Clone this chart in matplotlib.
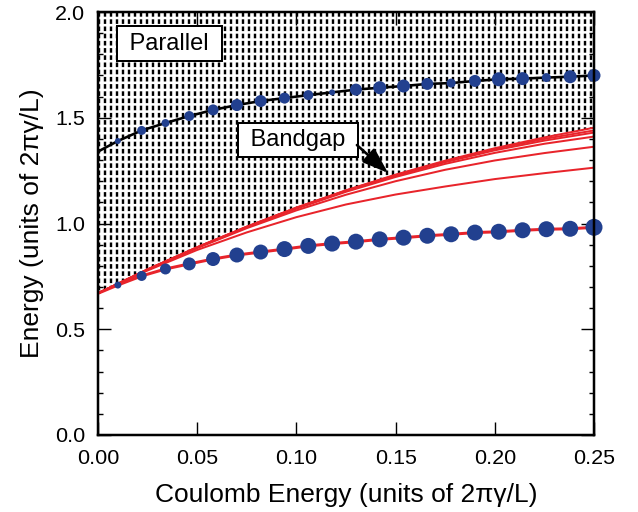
import matplotlib
matplotlib.use("Agg")
import matplotlib.pyplot as plt
import numpy as np
from matplotlib.ticker import MultipleLocator, FormatStrFormatter

# ---------------- data ----------------
dot_x = [0.010, 0.022, 0.034, 0.046, 0.058, 0.070, 0.082, 0.094, 0.106, 0.118,
         0.130, 0.142, 0.154, 0.166, 0.178, 0.190, 0.202, 0.214, 0.226, 0.238, 0.250]
parallel_y = [1.390, 1.440, 1.475, 1.508, 1.537, 1.560, 1.579, 1.593, 1.607, 1.620,
              1.633, 1.642, 1.650, 1.660, 1.664, 1.674, 1.682, 1.685, 1.690, 1.694, 1.700]
parallel_size_px = [6, 9, 8, 10, 11, 12, 12, 11, 10, 6, 12, 13, 13, 12, 9, 12, 14, 13, 9, 13, 13]
lower_y = [0.709, 0.752, 0.785, 0.809, 0.832, 0.851, 0.865, 0.879, 0.894, 0.905,
           0.914, 0.925, 0.933, 0.942, 0.949, 0.957, 0.961, 0.968, 0.973, 0.975, 0.982]
lower_size_px = [7, 10, 11, 13, 14, 15, 15, 16, 16, 16, 16, 16, 16, 16, 16, 16, 16, 16, 16, 16, 17]

parallel_y0 = 1.34   # curve value at x = 0
lower_y0 = 0.67

red_x = [0.0, 0.025, 0.05, 0.075, 0.10, 0.125, 0.15, 0.175, 0.20, 0.225, 0.25]
red_1 = [0.67, 0.783, 0.888, 0.985, 1.075, 1.157, 1.231, 1.297, 1.356, 1.407, 1.453]
red_2 = [0.67, 0.783, 0.888, 0.985, 1.075, 1.156, 1.229, 1.294, 1.352, 1.400, 1.440]
red_3 = [0.67, 0.783, 0.887, 0.984, 1.073, 1.154, 1.226, 1.290, 1.346, 1.392, 1.430]
red_4 = [0.67, 0.782, 0.886, 0.982, 1.070, 1.150, 1.220, 1.282, 1.334, 1.377, 1.411]
red_5 = [0.67, 0.781, 0.884, 0.978, 1.062, 1.136, 1.200, 1.254, 1.298, 1.333, 1.363]
red_6 = [0.67, 0.778, 0.875, 0.958, 1.030, 1.090, 1.137, 1.175, 1.210, 1.238, 1.264]
red_lines = [red_1, red_2, red_3, red_4, red_5, red_6]

x_ticks = [0.00, 0.05, 0.10, 0.15, 0.20, 0.25]
y_ticks = [0.0, 0.5, 1.0, 1.5, 2.0]

# ---------------- style ----------------
DPI = 216
PX = 72.0 / DPI          # points per pixel
BLUE = "#22408f"
RED = "#e8242b"

plt.rcParams["font.family"] = ["Liberation Sans", "DejaVu Sans"]

fig = plt.figure(figsize=(638 / DPI, 512 / DPI), dpi=DPI)
ax = fig.add_axes([98 / 638, 1 - 435 / 512, 496 / 638, 423 / 512])

# hatched region (dashed vertical pattern): black verticals + white horizontals
top_curve = np.array(red_1)
BLK_W, WHT_W = 2.4 * PX, 2.6 * PX
with plt.rc_context({"hatch.linewidth": BLK_W, "hatch.color": "black"}):
    h1 = ax.fill_between(red_x, top_curve, 2.0, facecolor="white",
                         edgecolor="black", linewidth=0, hatch="||||||", zorder=1)
with plt.rc_context({"hatch.linewidth": WHT_W, "hatch.color": "white"}):
    h2 = ax.fill_between(red_x, top_curve, 2.0, facecolor="none",
                         edgecolor="white", linewidth=0, hatch="-----", zorder=1.5)
for h, lw in ((h1, BLK_W), (h2, WHT_W)):
    if hasattr(h, "set_hatch_linewidth"):
        h.set_hatch_linewidth(lw)

# red curves
for ry in red_lines:
    ax.plot(red_x, ry, color=RED, lw=2.0 * PX, zorder=3, solid_capstyle="butt")

# curves through the dots
ax.plot([0.0] + dot_x, [parallel_y0] + parallel_y, color="black", lw=2.6 * PX, zorder=3)
ax.plot([0.0] + dot_x, [lower_y0] + lower_y, color=RED, lw=3.0 * PX, zorder=3)

ax.scatter(dot_x, parallel_y, s=(np.array(parallel_size_px) * PX) ** 2,
           color=BLUE, edgecolors="none", zorder=4, clip_on=False)
ax.scatter(dot_x, lower_y, s=(np.array(lower_size_px) * PX) ** 2,
           color=BLUE, edgecolors="none", zorder=4, clip_on=False)

# labels in boxes
box = dict(boxstyle="square,pad=0.27", facecolor="white", edgecolor="black", linewidth=2.0 * PX)
BOX_FS = 23.6 * PX
ax.text(0.036, 1.851, " Parallel ", fontsize=BOX_FS, ha="center", va="center", bbox=box, zorder=6)
ax.text(0.1008, 1.395, " Bandgap ", fontsize=BOX_FS, ha="center", va="center", bbox=box, zorder=6)
ax.annotate("", xy=(0.1462, 1.239), xytext=(0.1305, 1.371),
            arrowprops=dict(arrowstyle="-|>,head_length=0.4,head_width=0.14",
                            mutation_scale=55 * PX, color="black", lw=2.6 * PX,
                            shrinkA=0, shrinkB=0), zorder=6)

# axes
ax.set_xlim(0, 0.25)
ax.set_ylim(0, 2.0)
ax.set_xticks(x_ticks)
ax.set_yticks(y_ticks)
ax.xaxis.set_major_formatter(FormatStrFormatter("%.2f"))
ax.yaxis.set_major_formatter(FormatStrFormatter("%.1f"))
ax.yaxis.set_minor_locator(MultipleLocator(0.1))
ax.tick_params(which="both", direction="in", top=True, right=True, width=1.4 * PX,
               labelsize=21.5 * PX)
ax.tick_params(axis="x", which="major", length=13 * PX, pad=14 * PX)
ax.tick_params(axis="y", which="major", length=13 * PX, pad=13 * PX)
ax.tick_params(axis="y", which="minor", length=5 * PX)
for sp in ax.spines.values():
    sp.set_linewidth(2.5 * PX)
    sp.set_zorder(7)

LAB_FS = 26.4 * PX
ax.set_xlabel("Coulomb Energy (units of 2\u03c0\u03b3/L)", fontsize=LAB_FS, labelpad=15 * PX)
ax.set_ylabel("Energy (units of 2\u03c0\u03b3/L)", fontsize=LAB_FS, labelpad=11 * PX)

fig.savefig("out.png", dpi=DPI)
